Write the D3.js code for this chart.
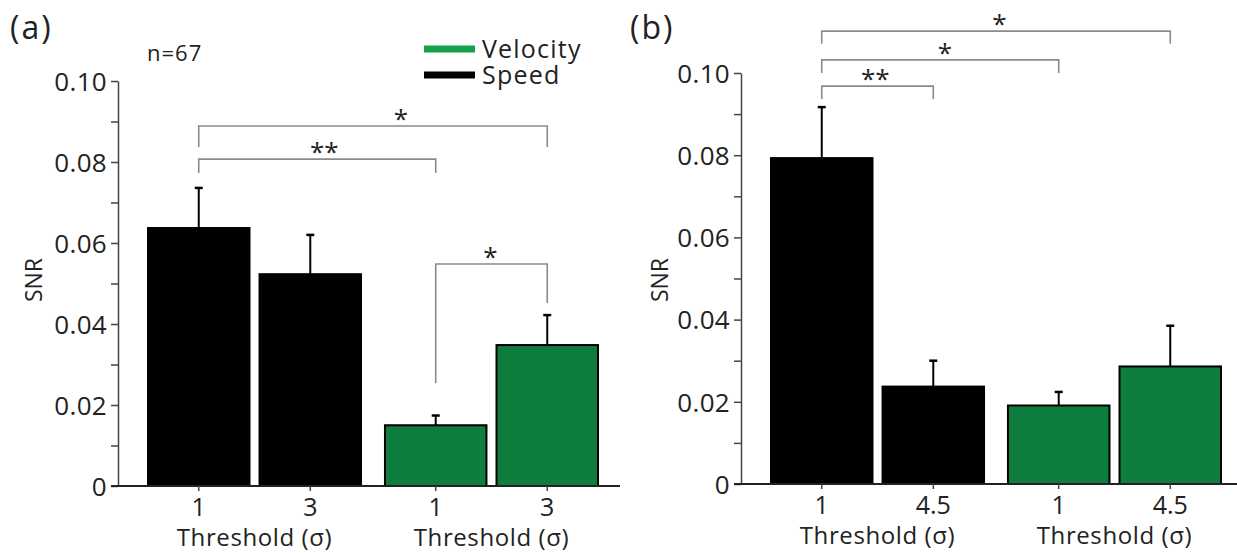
<!DOCTYPE html>
<html>
<head>
<meta charset="utf-8">
<script src="https://cdn.jsdelivr.net/npm/d3@7"></script>
<style>
  body { margin: 0; background: #fff; }
  svg text { font-family: 'Open Sans', sans-serif; fill: #222; }
</style>
</head>
<body>
<div id="wrapper"></div>
<script>
'use strict';

//#region DATA
const groups = ['Speed', 'Velocity'];
const thresholdsA = ['1', '3'];
const thresholdsB = ['1', '4.5'];
const snrA = [0.0637, 0.0523, 0.0150, 0.0348];
const errTopA = [0.0736, 0.0620, 0.0174, 0.0422];
const snrB = [0.0793, 0.0237, 0.0191, 0.0286];
const errTopB = [0.0917, 0.0300, 0.0224, 0.0385];
const yTicks = [0, 0.01, 0.02, 0.03, 0.04, 0.05, 0.06, 0.07, 0.08, 0.09, 0.10];
const yLabels = {0: '0', 0.02: '0.02', 0.04: '0.04', 0.06: '0.06', 0.08: '0.08', 0.1: '0.10'};
// significance brackets: from bar, to bar, bar level, left leg end, right leg end, label, star position
const bracketsA = [
  {from: 0, to: 3, level: 0.0889, left: 0.0837, right: 0.0837, label: '*', at: 0.58},
  {from: 0, to: 2, level: 0.0807, left: 0.0773, right: 0.0773, label: '**', at: 0.53},
  {from: 2, to: 3, level: 0.0548, left: 0.0254, right: 0.0452, label: '*', at: 0.49}
];
const bracketsB = [
  {from: 0, to: 3, level: 0.1102, left: 0.1071, right: 0.1071, label: '*', at: 0.51},
  {from: 0, to: 2, level: 0.1032, left: 0.1000, right: 0.1000, label: '*', at: 0.52},
  {from: 0, to: 1, level: 0.0968, left: 0.0937, right: 0.0937, label: '**', at: 0.48}
];
//#endregion DATA

const colours = {Speed: '#000000', Velocity: '#0e7d3d'};
const legendColours = {Velocity: '#16a049', Speed: '#000000'};

//#region DRAW CANVAS
const wrapper = d3.select('#wrapper')
  .append('svg')
  .attr('width', 1237)
  .attr('height', 553);
//#endregion DRAW CANVAS

function drawPanel (opts) {
  const data = [];
  groups.forEach((grp, gi) => {
    opts.thresholds.forEach((t, ti) => {
      const i = gi * 2 + ti;
      data.push({group: grp, threshold: t, value: opts.snr[i], errTop: opts.errTop[i], index: i});
    });
  });

  const yScale = d3.scaleLinear()
    .domain([0, 0.1])
    .range([opts.yBase, opts.yTop]);

  const groupScale = d3.scaleBand()
    .domain(groups)
    .range([opts.axisX + 30, opts.axisX + 480])
    .paddingInner(0.101);
  const barScale = d3.scaleBand()
    .domain(opts.thresholds)
    .range([0, groupScale.bandwidth()])
    .paddingInner(0.09);
  const barLeft = d => groupScale(d.group) + barScale(d.threshold);
  const barMid = d => barLeft(d) + barScale.bandwidth() / 2;

  const plot = wrapper.append('g');

  // panel letter
  plot.append('text')
    .attr('x', opts.letterX)
    .attr('y', 39)
    .style('font-size', '32px')
    .style('letter-spacing', '2px')
    .text(opts.letter);

  // bars
  plot.selectAll('rect.bar').data(data)
    .join('rect')
    .attr('class', 'bar')
    .attr('x', d => barLeft(d))
    .attr('y', d => yScale(d.value))
    .attr('width', barScale.bandwidth())
    .attr('height', d => yScale(0) - yScale(d.value))
    .attr('fill', d => colours[d.group])
    .attr('stroke', '#000')
    .attr('stroke-width', 2);

  // error bars (upper only)
  const errs = plot.selectAll('g.err').data(data).join('g').attr('class', 'err');
  errs.append('line')
    .attr('x1', d => barMid(d)).attr('x2', d => barMid(d))
    .attr('y1', d => yScale(d.value)).attr('y2', d => yScale(d.errTop))
    .attr('stroke', '#000').attr('stroke-width', 2);
  errs.append('line')
    .attr('x1', d => barMid(d) - 4).attr('x2', d => barMid(d) + 4)
    .attr('y1', d => yScale(d.errTop)).attr('y2', d => yScale(d.errTop))
    .attr('stroke', '#000').attr('stroke-width', 2.5);

  // y axis
  const yAxisGenerator = d3.axisLeft(yScale)
    .tickValues(yTicks)
    .tickSize(7)
    .tickSizeOuter(0)
    .tickPadding(4)
    .tickFormat(d => yLabels[Math.round(d * 100) / 100] || '');
  const yAxis = plot.append('g')
    .attr('transform', `translate(${opts.axisX},0)`)
    .call(yAxisGenerator);
  yAxis.select('.domain').attr('stroke', '#444').attr('stroke-width', 1.5);
  yAxis.selectAll('.tick line').attr('stroke', '#444').attr('stroke-width', 1.5);
  yAxis.selectAll('.tick text')
    .style('font-size', '26px')
    .style('letter-spacing', '0.3px')
    .attr('fill', '#222')
    .attr('dy', '0.36em');

  yAxis.append('text')
    .attr('transform', `rotate(-90)`)
    .attr('x', -opts.snrY)
    .attr('y', opts.snrX - opts.axisX)
    .attr('text-anchor', 'middle')
    .attr('dy', '0.35em')
    .attr('fill', '#222')
    .style('font-size', '23px')
    .text('SNR');

  // x baseline and ticks
  plot.append('line')
    .attr('x1', opts.axisX - 7).attr('x2', opts.axisX + 502)
    .attr('y1', yScale(0)).attr('y2', yScale(0))
    .attr('stroke', '#222').attr('stroke-width', 2);
  plot.selectAll('line.xtick').data(data).join('line')
    .attr('class', 'xtick')
    .attr('x1', d => barMid(d)).attr('x2', d => barMid(d))
    .attr('y1', yScale(0)).attr('y2', yScale(0) + 5)
    .attr('stroke', '#444').attr('stroke-width', 1.5);
  plot.selectAll('text.xlab').data(data).join('text')
    .attr('class', 'xlab')
    .attr('x', d => barMid(d))
    .attr('y', yScale(0) + 30)
    .attr('text-anchor', 'middle')
    .style('font-size', '25px')
    .text(d => d.threshold);
  plot.selectAll('text.xtitle').data(groups).join('text')
    .attr('class', 'xtitle')
    .attr('x', d => groupScale(d) + groupScale.bandwidth() / 2)
    .attr('y', yScale(0) + 60)
    .attr('text-anchor', 'middle')
    .style('font-size', '24px')
    .style('letter-spacing', '0.6px')
    .text('Threshold (σ)');

  // significance brackets
  const br = plot.selectAll('g.bracket').data(opts.brackets).join('g').attr('class', 'bracket');
  br.append('path')
    .attr('d', b => {
      const x1 = barMid(data[b.from]);
      const x2 = barMid(data[b.to]);
      return `M${x1},${yScale(b.left)}V${yScale(b.level)}H${x2}V${yScale(b.right)}`;
    })
    .attr('fill', 'none')
    .attr('stroke', '#8a8a8a')
    .attr('stroke-width', 1.6);
  br.append('text')
    .attr('x', b => {
      const x1 = barMid(data[b.from]);
      const x2 = barMid(data[b.to]);
      return x1 + (x2 - x1) * b.at;
    })
    .attr('y', b => yScale(b.level) + 2)
    .attr('text-anchor', 'middle')
    .style('font-size', '26px')
    .attr('fill', '#333')
    .text(b => b.label);

  return {yScale, plot};
}

drawPanel({
  letter: '(a)', letterX: 10, axisX: 118, yTop: 81, yBase: 486, snrX: 34, snrY: 280,
  thresholds: thresholdsA, snr: snrA, errTop: errTopA, brackets: bracketsA
});
drawPanel({
  letter: '(b)', letterX: 630, axisX: 741, yTop: 73, yBase: 484, snrX: 660, snrY: 280,
  thresholds: thresholdsB, snr: snrB, errTop: errTopB, brackets: bracketsB
});

//#region LEGEND
wrapper.append('text')
  .attr('x', 147)
  .attr('y', 61)
  .style('font-size', '22px')
  .style('letter-spacing', '1px')
  .text('n=67');

const legendItems = ['Velocity', 'Speed'];
const legendY = d3.scalePoint().domain(legendItems).range([49, 75]);
const legend = wrapper.selectAll('g.legend').data(legendItems).join('g').attr('class', 'legend');
legend.append('line')
  .attr('x1', 424).attr('x2', 475)
  .attr('y1', d => legendY(d)).attr('y2', d => legendY(d))
  .attr('stroke', d => legendColours[d])
  .attr('stroke-width', 7);
legend.append('text')
  .attr('x', 482)
  .attr('y', d => legendY(d))
  .attr('dy', '0.36em')
  .style('font-size', '25px')
  .style('letter-spacing', '1.2px')
  .text(d => d);
//#endregion LEGEND
</script>
</body>
</html>
